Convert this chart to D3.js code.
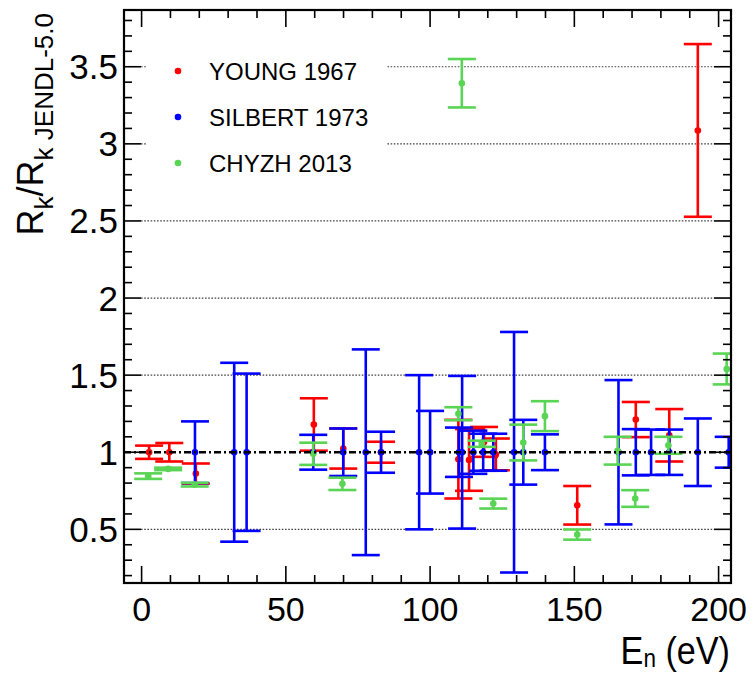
<!DOCTYPE html>
<html>
<head>
<meta charset="utf-8">
<script src="https://cdn.jsdelivr.net/npm/d3@7"></script>
<style>
  html, body { margin: 0; padding: 0; background: #fff; }
  svg { display: block; font-family: "Liberation Sans", Arial, Helvetica, sans-serif; }
</style>
</head>
<body>
<svg id="chart" width="754" height="673"></svg>
<script>
// ---- data ----
const youngE   = [2.6, 9.6, 18.8, 59.7, 69.9, 83.0, 109.8, 113.5, 118.7, 122.8, 151.0, 171.3, 182.9, 192.8];
const youngR   = [1.0, 1.0, 0.862, 1.18, 1.024, 1.0, 0.955, 0.95, 1.067, 0.986, 0.656, 1.212, 1.11, 3.087];
const youngErr = [0.043, 0.06, 0.065, 0.17, 0.13, 0.068, 0.255, 0.2, 0.097, 0.103, 0.125, 0.114, 0.17, 0.56];

const silbertE   = [18.5, 32.1, 36.4, 59.5, 69.9, 77.7, 83.0, 96.2, 100.0, 110.0, 111.1, 115.0, 118.4, 121.9, 129.1, 132.3, 139.8, 165.3, 171.3, 176.6, 182.9, 192.8, 203.5];
const silbertR   = [1, 1, 1, 1, 1, 1, 1, 1, 1, 1, 1, 1, 1, 1, 1, 1, 1, 1, 1, 1, 1, 1, 1];
const silbertErr = [0.2, 0.58, 0.51, 0.113, 0.154, 0.667, 0.133, 0.5, 0.268, 0.16, 0.495, 0.14, 0.12, 0.12, 0.78, 0.21, 0.116, 0.468, 0.15, 0.147, 0.147, 0.219, 0.1];

const chyzhE   = [2.3, 9.2, 18.4, 59.5, 69.6, 109.8, 111.0, 117.9, 121.9, 132.3, 139.8, 151.0, 165.0, 171.1, 182.6, 202.8];
const chyzhR   = [0.845, 0.892, 0.79, 0.99, 0.795, 1.25, 3.393, 1.055, 0.667, 1.063, 1.234, 0.466, 1.01, 0.70, 1.045, 1.54];
const chyzhErr = [0.018, 0.008, 0.012, 0.072, 0.04, 0.042, 0.157, 0.02, 0.032, 0.116, 0.097, 0.033, 0.09, 0.054, 0.055, 0.1];

const seriesNames = ["YOUNG 1967", "SILBERT 1973", "CHYZH 2013"];
const xMajorTicks = [0, 50, 100, 150, 200];
const yMajorTicks = [0.5, 1, 1.5, 2, 2.5, 3, 3.5];
const yTickLabels = ["0.5", "1", "1.5", "2", "2.5", "3", "3.5"];
const gridValues  = [0.5, 1.5, 2, 2.5, 3, 3.5];
const referenceValue = 1;

// ---- layout ----
const svg = d3.select("#chart");
const L = 124, R = 731, T = 10, B = 583;
const x = d3.scaleLinear().domain([-6.1, 204.3]).range([L, R]);
const y = d3.scaleLinear().domain([0.152, 3.868]).range([B, T]);
const colors = ["#ff0000", "#0000ff", "#59d454"];

svg.append("defs").append("clipPath").attr("id", "clip")
  .append("rect").attr("x", L).attr("y", T).attr("width", R - L).attr("height", B - T);

// grid (dotted)
const gridG = svg.append("g");
gridValues.forEach(v => {
  gridG.append("line")
    .attr("x1", L + 17).attr("x2", R - 17)
    .attr("y1", y(v)).attr("y2", y(v))
    .attr("stroke", "#444").attr("stroke-width", 1.2)
    .attr("stroke-dasharray", "1.6,1.6");
});

// legend background (hides grid)
svg.append("rect").attr("x", 147).attr("y", 38).attr("width", 240).attr("height", 152).attr("fill", "#fff");

// data
const series = [
  { e: youngE, r: youngR, err: youngErr },
  { e: silbertE, r: silbertR, err: silbertErr },
  { e: chyzhE, r: chyzhR, err: chyzhErr }
];
const dataG = svg.append("g").attr("clip-path", "url(#clip)");
const capW = 14;
series.forEach((s, si) => {
  const pts = s.e.map((e, i) => ({ e, r: s.r[i], err: s.err[i] }));
  const g = dataG.append("g");
  const c = colors[si];
  g.selectAll(".v").data(pts).enter().append("line")
    .attr("x1", d => x(d.e)).attr("x2", d => x(d.e))
    .attr("y1", d => y(d.r + d.err)).attr("y2", d => y(d.r - d.err))
    .attr("stroke", c).attr("stroke-width", 2.6);
  g.selectAll(".ct").data(pts).enter().append("line")
    .attr("x1", d => x(d.e) - capW).attr("x2", d => x(d.e) + capW)
    .attr("y1", d => y(d.r + d.err)).attr("y2", d => y(d.r + d.err))
    .attr("stroke", c).attr("stroke-width", 2.6);
  g.selectAll(".cb").data(pts).enter().append("line")
    .attr("x1", d => x(d.e) - capW).attr("x2", d => x(d.e) + capW)
    .attr("y1", d => y(d.r - d.err)).attr("y2", d => y(d.r - d.err))
    .attr("stroke", c).attr("stroke-width", 2.6);
  g.selectAll("circle").data(pts).enter().append("circle")
    .attr("cx", d => x(d.e)).attr("cy", d => y(d.r)).attr("r", 3.3)
    .attr("fill", c);
});

// reference dash-dot line
svg.append("line")
  .attr("x1", L).attr("x2", R).attr("y1", y(referenceValue)).attr("y2", y(referenceValue))
  .attr("stroke", "#000").attr("stroke-width", 2.4)
  .attr("stroke-dasharray", "7,3,2,3");

// ticks (ROOT style, inside, on all four sides)
const tickG = svg.append("g").attr("stroke", "#000").attr("stroke-width", 1.6);
const xMinor = d3.range(0, 201, 10);
xMinor.forEach(v => {
  const len = (v % 50 === 0) ? 17 : 8;
  tickG.append("line").attr("x1", x(v)).attr("x2", x(v)).attr("y1", B).attr("y2", B - len);
  tickG.append("line").attr("x1", x(v)).attr("x2", x(v)).attr("y1", T).attr("y2", T + len);
});
const yMinor = d3.range(2, 39).map(i => i / 10);
yMinor.forEach(v => {
  const isMajor = Math.abs(v * 2 - Math.round(v * 2)) < 1e-6;
  const len = isMajor ? 17 : 8;
  tickG.append("line").attr("x1", L).attr("x2", L + len).attr("y1", y(v)).attr("y2", y(v));
  tickG.append("line").attr("x1", R).attr("x2", R - len).attr("y1", y(v)).attr("y2", y(v));
});

// frame
svg.append("rect").attr("x", L).attr("y", T).attr("width", R - L).attr("height", B - T)
  .attr("fill", "none").attr("stroke", "#000").attr("stroke-width", 2.2);

// tick labels
svg.append("g").selectAll("text").data(xMajorTicks).enter().append("text")
  .attr("x", d => x(d)).attr("y", 621)
  .attr("text-anchor", "middle").attr("font-size", 34).attr("fill", "#000")
  .text(d => d);
svg.append("g").selectAll("text").data(yMajorTicks).enter().append("text")
  .attr("x", 118).attr("y", d => y(d) + 12.5)
  .attr("text-anchor", "end").attr("font-size", 35).attr("fill", "#000")
  .text((d, i) => yTickLabels[i]);

// x title
const xt = svg.append("text")
  .attr("transform", "translate(730,664) scale(0.9,1)")
  .attr("text-anchor", "end").attr("font-size", 38).attr("fill", "#000");
xt.append("tspan").text("E");
xt.append("tspan").attr("font-size", 25).attr("dy", 3).text("n");
xt.append("tspan").attr("dy", -3).text(" (eV)");

// y title
const yt = svg.append("text")
  .attr("transform", "translate(43,13) rotate(-90)")
  .attr("text-anchor", "end").attr("font-size", 36).attr("fill", "#000");
yt.append("tspan").text("R");
yt.append("tspan").attr("font-size", 26).attr("dy", 10).text("k");
yt.append("tspan").attr("dy", -10).text("/R");
yt.append("tspan").attr("font-size", 26).attr("dy", 10).text("k JENDL-5.0");

// legend
const legY = [71, 117, 163];
const leg = svg.append("g");
seriesNames.forEach((name, i) => {
  leg.append("circle").attr("cx", 178).attr("cy", legY[i]).attr("r", 3.3).attr("fill", colors[i]);
  leg.append("text").attr("x", 209).attr("y", legY[i] + 9)
    .attr("font-size", 24).attr("fill", "#000").text(name);
});
</script>
</body>
</html>
